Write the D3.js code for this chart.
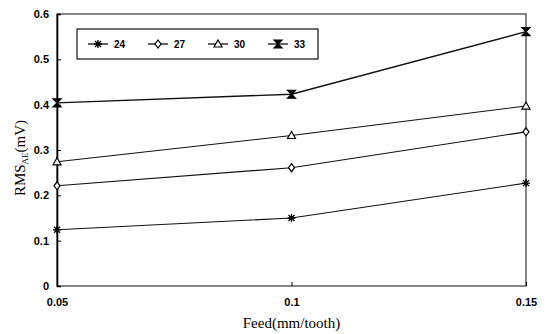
<!DOCTYPE html>
<html>
<head>
<meta charset="utf-8">
<script src="https://cdn.jsdelivr.net/npm/d3@7"></script>
<style>
  body { margin: 0; background: #fff; }
  svg { display: block; }
</style>
</head>
<body>
<div id="chart"></div>
<script>
(function() {
    // Data
    var feed = [0.05, 0.1, 0.15];
    var seriesNames = ["24", "27", "30", "33"];
    var rms24 = [0.124, 0.150, 0.227];
    var rms27 = [0.221, 0.261, 0.340];
    var rms30 = [0.274, 0.332, 0.397];
    var rms33 = [0.404, 0.423, 0.561];
    var xTicks = [0.05, 0.1, 0.15];
    var yTicks = [0, 0.1, 0.2, 0.3, 0.4, 0.5, 0.6];

    var allSeries = [rms24, rms27, rms30, rms33];

    var W = 548, H = 334;
    var margin = {top: 14, right: 22, bottom: 48, left: 57},
        width = W - margin.left - margin.right,
        height = H - margin.top - margin.bottom;

    var x = d3.scaleLinear().domain([0.05, 0.15]).range([0, width]);
    var y = d3.scaleLinear().domain([0, 0.6]).range([height, 0]);

    var svg = d3.select("#chart").append("svg")
        .attr("width", W)
        .attr("height", H);

    var g = svg.append("g")
        .attr("transform", "translate(" + margin.left + "," + margin.top + ")");

    // Marker shapes: star, diamond, triangle, hourglass
    function marker(sel, i) {
        if (i === 0) {
            sel.append("path")
                .attr("d", "M-4,0H4M0,-4V4M-3,-3L3,3M-3,3L3,-3")
                .attr("stroke", "#000").attr("stroke-width", 1.3).attr("fill", "none");
        } else if (i === 1) {
            sel.append("path")
                .attr("d", "M0,-4L3,0L0,4L-3,0Z")
                .attr("stroke", "#000").attr("stroke-width", 1.2).attr("fill", "#fff");
        } else if (i === 2) {
            sel.append("path")
                .attr("d", "M0,-4L4,3H-4Z")
                .attr("stroke", "#000").attr("stroke-width", 1.2).attr("fill", "#fff");
        } else {
            sel.append("path")
                .attr("d", "M-4,-4H4L-4,4H4Z")
                .attr("stroke", "#000").attr("stroke-width", 1.2).attr("fill", "#000");
        }
    }

    // Frame
    g.append("rect")
        .attr("x", 0).attr("y", 0)
        .attr("width", width).attr("height", height)
        .attr("fill", "none")
        .attr("stroke", "#111")
        .attr("stroke-width", 1);

    // Y axis
    var yAxis = g.append("g")
        .call(d3.axisLeft(y).tickValues(yTicks).tickSize(-4).tickPadding(8)
            .tickFormat(function(d) { return d === 0 ? "0" : d3.format(".1f")(d); }));
    yAxis.select(".domain").attr("stroke-width", 1.6);
    yAxis.selectAll("text")
        .attr("font-family", "Liberation Sans, Arial, sans-serif")
        .attr("font-weight", "bold")
        .attr("font-size", "11px")
        .attr("fill", "#000");

    // X axis
    var xAxis = g.append("g")
        .attr("transform", "translate(0," + height + ")")
        .call(d3.axisBottom(x).tickValues(xTicks).tickSize(-4).tickPadding(12)
            .tickFormat(function(d) { return d3.format("")(+d.toFixed(2)); }));
    xAxis.select(".domain").remove();
    xAxis.selectAll("text")
        .attr("font-family", "Liberation Sans, Arial, sans-serif")
        .attr("font-weight", "bold")
        .attr("font-size", "11px")
        .attr("fill", "#000");

    // Lines
    var line = d3.line()
        .x(function(d, i) { return x(feed[i]); })
        .y(function(d) { return y(d); });

    allSeries.forEach(function(vals, i) {
        g.append("path")
            .datum(vals)
            .attr("d", line)
            .attr("fill", "none")
            .attr("stroke", "#111")
            .attr("stroke-width", i === 3 ? 1.4 : 1.1);

        vals.forEach(function(v, j) {
            var m = g.append("g")
                .attr("transform", "translate(" + x(feed[j]) + "," + y(v) + ")");
            marker(m, i);
        });
    });

    // Legend
    var legend = g.append("g").attr("transform", "translate(20,15)");
    legend.append("rect")
        .attr("x", 0).attr("y", 0)
        .attr("width", 241).attr("height", 30)
        .attr("fill", "#fff")
        .attr("stroke", "#111")
        .attr("stroke-width", 1.2);

    seriesNames.forEach(function(name, i) {
        var item = legend.append("g")
            .attr("transform", "translate(" + (11 + i * 60) + ",15)");
        item.append("line")
            .attr("x1", 0).attr("x2", 20)
            .attr("stroke", "#111").attr("stroke-width", 1.3);
        var m = item.append("g").attr("transform", "translate(10,0)");
        marker(m, i);
        item.append("text")
            .attr("x", 26).attr("y", 4)
            .attr("font-family", "Liberation Sans, Arial, sans-serif")
            .attr("font-weight", "bold")
            .attr("font-size", "10px")
            .text(name);
    });

    // Axis titles
    svg.append("text")
        .attr("x", margin.left + width / 2)
        .attr("y", 328)
        .attr("text-anchor", "middle")
        .attr("font-family", "Liberation Serif, Times New Roman, serif")
        .attr("font-size", "15px")
        .text("Feed(mm/tooth)");

    var yTitle = svg.append("text")
        .attr("transform", "translate(25,158) rotate(-90)")
        .attr("text-anchor", "middle")
        .attr("font-family", "Liberation Serif, Times New Roman, serif")
        .attr("font-size", "15px");
    yTitle.append("tspan").text("RMS");
    yTitle.append("tspan").attr("font-size", "9px").attr("dy", 3).text("AE");
    yTitle.append("tspan").attr("dy", -3).text("(mV)");
})();
</script>
</body>
</html>
